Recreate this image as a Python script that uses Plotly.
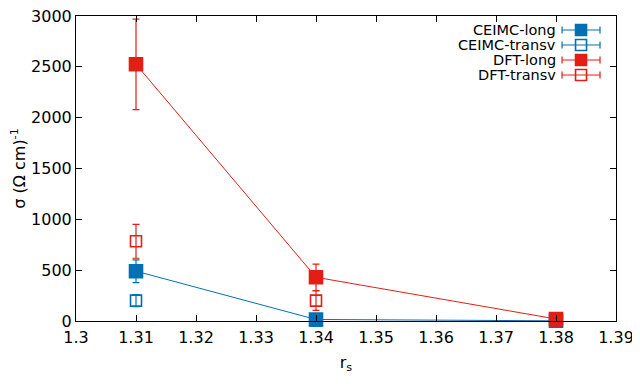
import plotly.graph_objects as go

BLUE = "#0070b4"
RED = "#e31e14"

rs = [1.31, 1.34, 1.38]

ceimc_long = [490, 15, 2]
ceimc_long_err = [112, 10, 5]
ceimc_transv = [200, 2, 0]
ceimc_transv_err = [60, 8, 4]

dft_long = [2525, 430, 20]
dft_long_err = [445, 130, 15]
dft_transv = [784, 200, 5]
dft_transv_err = [167, 95, 10]

legend_names = ["CEIMC-long", "CEIMC-transv", "DFT-long", "DFT-transv"]


def series(x, y, err, color, symbol, lines, size):
    return go.Scatter(
        x=x, y=y,
        mode="lines+markers" if lines else "markers",
        line=dict(color=color, width=1),
        marker=dict(symbol=symbol, size=size, color=color,
                    line=dict(color=color, width=1.6)),
        error_y=dict(type="data", array=err, color=color,
                     thickness=1.2, width=3.5),
        cliponaxis=False,
        showlegend=False,
        hoverinfo="x+y",
    )


fig = go.Figure()
fig.add_trace(series(rs, ceimc_long, ceimc_long_err, BLUE, "square", True, 13))
fig.add_trace(series(rs, ceimc_transv, ceimc_transv_err, BLUE, "square-open", False, 11))
fig.add_trace(series(rs, dft_long, dft_long_err, RED, "square", True, 13))
fig.add_trace(series(rs, dft_transv, dft_transv_err, RED, "square-open", False, 11))

# hand-made gnuplot style key (text left of sample), on a pixel overlay axis
key_y = [30, 45, 60, 75]
key_style = [(BLUE, "square"), (BLUE, "square-open"), (RED, "square"), (RED, "square-open")]
for name, ky, (col, sym) in zip(legend_names, key_y, key_style):
    fig.add_trace(go.Scatter(
        x=[581], y=[ky], xaxis="x2", yaxis="y2", mode="markers",
        marker=dict(symbol=sym, size=11, color=col, line=dict(color=col, width=1.6)),
        error_x=dict(type="constant", value=19, color=col, thickness=1.2, width=3.5),
        showlegend=False, hoverinfo="skip", cliponaxis=False,
    ))
    fig.add_annotation(x=558, y=ky, xref="x2", yref="y2", text=name,
                       showarrow=False, xanchor="right", yanchor="middle",
                       font=dict(size=14.5, color="#000"))

axis_common = dict(
    showline=True, linecolor="black", linewidth=1, mirror="allticks",
    ticks="inside", ticklen=6, tickcolor="black", showgrid=False, zeroline=False,
    tickfont=dict(size=16, color="black"), automargin=False,
    ticklabeloverflow="allow",
)

# page body has an 8px margin, so the figure sits at (8, 8)
fig.update_layout(
    width=632, height=376,
    margin=dict(l=68, r=24, t=8, b=63),
    paper_bgcolor="white", plot_bgcolor="white",
    font=dict(family="DejaVu Sans", color="black"),
    xaxis=dict(range=[1.3, 1.39], dtick=0.01, tickformat=".2~f", tickangle=0,
               ticklabelstandoff=2,
               title=dict(text="r<sub>s</sub>", font=dict(size=16), standoff=10),
               **axis_common),
    yaxis=dict(range=[0, 3000], dtick=500,
               title=dict(text="σ (Ω cm)<sup>-1</sup>", font=dict(size=16), standoff=14),
               **axis_common),
    xaxis2=dict(overlaying="x", anchor="y2", range=[75.5, 616], visible=False),
    yaxis2=dict(overlaying="y", anchor="x2", range=[321, 16], visible=False),
)

fig.write_html("out.html")
